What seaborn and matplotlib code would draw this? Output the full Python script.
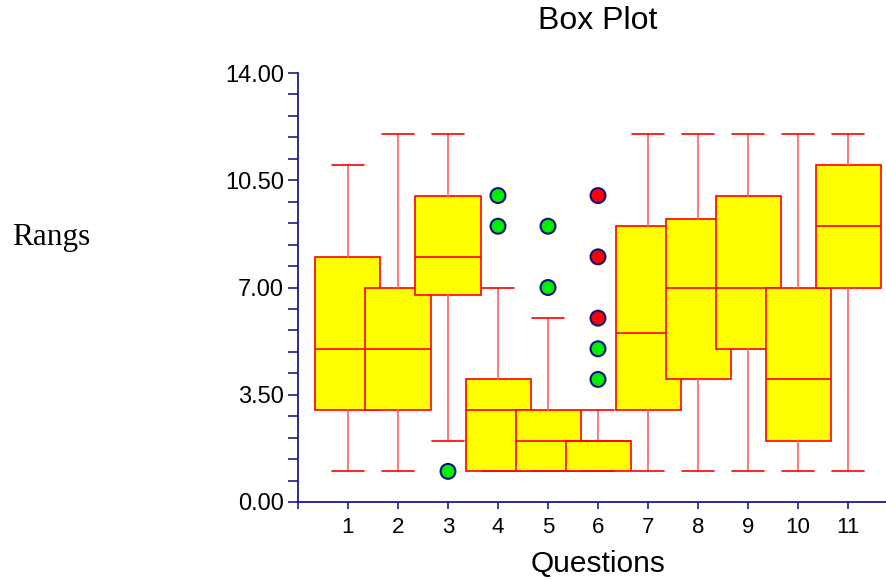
import matplotlib
matplotlib.use("Agg")
import matplotlib.pyplot as plt
import seaborn as sns
import pandas as pd
from matplotlib.ticker import MultipleLocator, FixedLocator, FuncFormatter

questions = [1, 2, 3, 4, 5, 6, 7, 8, 9, 10, 11]
whisk_lo = [1, 1, 2, 1, 1, 1, 1, 1, 1, 1, 1]
q1 = [3, 3, 6.75, 1, 1, 1, 3, 4, 5, 2, 7]
med = [5, 5, 8, 3, 2, 2, 5.5, 7, 7, 4, 9]
q3 = [8, 7, 10, 4, 3, 2, 9, 9.25, 10, 7, 11]
whisk_hi = [11, 12, 12, 7, 6, 3, 12, 12, 12, 12, 12]

out_q = [3, 4, 4, 5, 5, 6, 6, 6, 6, 6]
out_v = [1, 10, 9, 9, 7, 5, 4, 10, 8, 6]
out_kind = ["near", "near", "near", "near", "near", "near", "near", "far", "far", "far"]

sns.set_style("ticks")
plt.rcParams["font.family"] = ["Liberation Sans", "DejaVu Sans"]
plt.rcParams["text.color"] = "black"
plt.rcParams["axes.labelcolor"] = "black"

fig = plt.figure(figsize=(8.87, 5.8), dpi=100)
ax = fig.add_axes([298 / 887, 1 - 502 / 580, 1 - 298 / 887, (502 - 73) / 580])

for i, q in enumerate(questions):
    st = dict(whislo=whisk_lo[i], q1=q1[i], med=med[i], q3=q3[i],
              whishi=whisk_hi[i], fliers=[], label=str(q))
    ax.bxp([st], positions=[q], widths=1.3, patch_artist=True, showfliers=False,
           zorder=2 + i * 0.3, manage_ticks=False,
           boxprops=dict(facecolor="#FFFF00", edgecolor="#FF0000", linewidth=1.2),
           medianprops=dict(color="#FF0000", linewidth=1.2),
           whiskerprops=dict(color="#FF6060", linewidth=1.2),
           capprops=dict(color="#FF0000", linewidth=1.2),
           capwidths=0.64)

df = pd.DataFrame({"q": out_q, "v": out_v, "kind": out_kind})
sns.scatterplot(data=df, x="q", y="v", hue="kind",
                palette={"near": "#00EE00", "far": "#FF0000"},
                s=115, edgecolor="#101080", linewidth=1.5, legend=False, ax=ax, zorder=10)

ax.set_xlim(0, 11.78)
ax.set_ylim(0, 14)
ax.yaxis.set_major_locator(MultipleLocator(3.5))
ax.yaxis.set_minor_locator(MultipleLocator(0.7))
ax.yaxis.set_major_formatter(FuncFormatter(lambda v, p: f"{v:.2f}"))
ax.xaxis.set_major_locator(FixedLocator(list(range(0, 12))))
ax.xaxis.set_major_formatter(FuncFormatter(lambda v, p: "" if v == 0 else f"{int(v)}"))

navy = "#1a1a8c"
for side in ["top", "right"]:
    ax.spines[side].set_visible(False)
for side in ["left", "bottom"]:
    ax.spines[side].set_color(navy)
    ax.spines[side].set_linewidth(1.3)
ax.tick_params(axis="y", which="both", direction="out", length=7, width=1.2,
               color=navy, labelsize=17, labelcolor="black", pad=3)
ax.tick_params(axis="x", which="major", direction="out", length=5, width=1.2,
               color=navy, labelsize=16, labelcolor="black", pad=6)
ax.set_xlabel("Questions", fontsize=21.5, va="center")
ax.xaxis.set_label_coords((598 - 298) / (887 - 298), -(564 - 502) / (502 - 73))
ax.set_ylabel("")
ax.set_facecolor("white")

fig.text(598 / 887, 1 - 21 / 580, "Box Plot", ha="center", va="center", fontsize=23)
fig.text(12 / 887, 1 - 238 / 580, "Rangs", ha="left", va="center", fontsize=22.5,
         family=["Liberation Serif", "DejaVu Serif"])

fig.savefig("out.png", dpi=100)
